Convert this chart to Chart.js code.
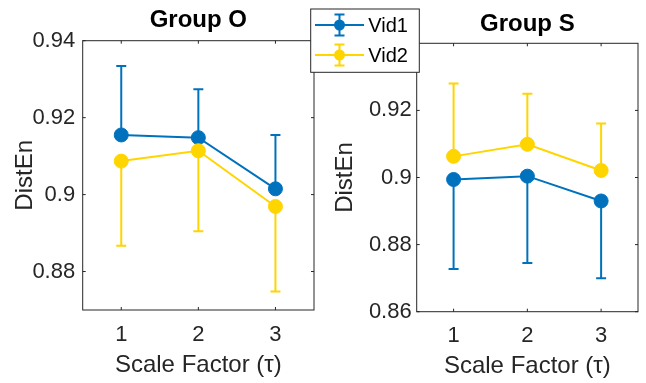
<!DOCTYPE html>
<html>
<head>
<meta charset="utf-8">
<script src="https://cdn.jsdelivr.net/npm/chart.js@4.4.1/dist/chart.umd.min.js"></script>
<style>
html, body { margin: 0; padding: 0; background: #ffffff; overflow: hidden; }
#wrap { position: relative; width: 646px; height: 383px; }
canvas { position: absolute; top: 0; }
#cO { left: 0px; }
#cS { left: 300px; }
</style>
</head>
<body>
<div id="wrap">
  <canvas id="cO" width="330" height="383"></canvas>
  <canvas id="cS" width="346" height="383"></canvas>
</div>
<script>
// ---------------- data ----------------
const scaleFactors = [1, 2, 3];
const xTickLabels = ['1', '2', '3'];
const seriesNames = ['Vid1', 'Vid2'];
const groupTitles = ['Group O', 'Group S'];

// Group O
const oVid1 = [0.9155, 0.9148, 0.9015];
const oVid1Err = [0.0179, 0.0126, 0.0140];   // drawn upward
const oVid2 = [0.9087, 0.9114, 0.8969];
const oVid2Err = [0.0220, 0.0209, 0.0221];   // drawn downward
const oYTicks = [0.88, 0.90, 0.92, 0.94];
const oYLabels = ['0.88', '0.9', '0.92', '0.94'];
const oYRange = [0.87, 0.94];

// Group S
const sVid1 = [0.8994, 0.9004, 0.8930];
const sVid1Err = [0.0267, 0.0259, 0.0230];   // drawn downward
const sVid2 = [0.9063, 0.9099, 0.9021];
const sVid2Err = [0.0217, 0.0151, 0.0140];   // drawn upward
const sYTicks = [0.86, 0.88, 0.90, 0.92];
const sYLabels = ['0.86', '0.88', '0.9', '0.92'];
const sYRange = [0.86, 0.94];

const xRange = [0.5, 3.5];

// ---------------- style ----------------
const BLUE = '#0072BD';
const YELLOW = '#FFD500';
const AXIS = '#262626';
const FONT = "'Liberation Sans', Arial, Helvetica, sans-serif";
const TICK_LEN = 3;

function pts(vals) { return scaleFactors.map((x, i) => ({ x: x, y: vals[i] })); }

const frameAndErrors = {
  id: 'frameAndErrors',
  beforeDatasetsDraw(chart) {
    const { ctx, chartArea: a, scales } = chart;
    const x = scales.x, y = scales.y;
    ctx.save();
    ctx.strokeStyle = AXIS;
    ctx.lineWidth = 1;
    ctx.strokeRect(a.left, a.top, a.right - a.left, a.bottom - a.top);
    ctx.beginPath();
    x.ticks.forEach(t => {
      const px = x.getPixelForValue(t.value);
      ctx.moveTo(px, a.bottom); ctx.lineTo(px, a.bottom - TICK_LEN);
      ctx.moveTo(px, a.top); ctx.lineTo(px, a.top + TICK_LEN);
    });
    y.ticks.forEach(t => {
      const py = y.getPixelForValue(t.value);
      ctx.moveTo(a.left, py); ctx.lineTo(a.left + TICK_LEN, py);
      ctx.moveTo(a.right, py); ctx.lineTo(a.right - TICK_LEN, py);
    });
    ctx.stroke();
    ctx.restore();
  },
  beforeDatasetDraw(chart, args) {
    const ds = chart.data.datasets[args.index];
    const y = chart.scales.y;
    const ctx = chart.ctx;
    ctx.save();
    ctx.strokeStyle = ds.borderColor;
    ctx.lineWidth = 2;
    ctx.beginPath();
    args.meta.data.forEach((el, i) => {
      const v = ds.data[i].y;
      const end = y.getPixelForValue(v + ds.errDir * ds.err[i]);
      ctx.moveTo(el.x, el.y); ctx.lineTo(el.x, end);
      ctx.moveTo(el.x - 5, end); ctx.lineTo(el.x + 5, end);
    });
    ctx.stroke();
    ctx.restore();
  },
  afterDraw(chart, args, opts) {
    if (!opts || !opts.legend) return;
    const L = opts.legend;
    const ctx = chart.ctx;
    ctx.save();
    ctx.fillStyle = '#ffffff';
    ctx.fillRect(L.x, L.y, L.w, L.h);
    ctx.strokeStyle = AXIS;
    ctx.lineWidth = 1;
    ctx.strokeRect(L.x, L.y, L.w, L.h);
    chart.data.datasets.forEach((ds, i) => {
      const cy = L.y + 16 + i * 30;
      const x0 = L.x + 4.3, x1 = L.x + 53.3, cx = (x0 + x1) / 2;
      ctx.strokeStyle = ds.borderColor;
      ctx.lineWidth = 2;
      ctx.beginPath();
      ctx.moveTo(x0, cy); ctx.lineTo(x1, cy);
      ctx.moveTo(cx, cy - 10.5); ctx.lineTo(cx, cy + 10.5);
      ctx.moveTo(cx - 5, cy - 10.5); ctx.lineTo(cx + 5, cy - 10.5);
      ctx.moveTo(cx - 5, cy + 10.5); ctx.lineTo(cx + 5, cy + 10.5);
      ctx.stroke();
      ctx.fillStyle = ds.borderColor;
      ctx.beginPath();
      ctx.arc(cx, cy, 5.5, 0, Math.PI * 2);
      ctx.fill();
      ctx.fillStyle = '#000000';
      ctx.font = '20px ' + FONT;
      ctx.textAlign = 'left';
      ctx.textBaseline = 'middle';
      ctx.fillText(ds.label, L.x + 57.6, cy + 1);
    });
    ctx.restore();
  }
};

function makeChart(id, title, datasets, yRange, yTicks, yLabels, g) {
  return new Chart(document.getElementById(id), {
    type: 'line',
    data: { datasets: datasets },
    options: {
      responsive: false,
      animation: false,
      events: [],
      layout: { padding: { left: 0, right: g.padRight, top: 0, bottom: 0 } },
      plugins: {
        legend: { display: false },
        tooltip: { enabled: false },
        title: {
          display: true, text: title, fullSize: false, color: '#000000',
          font: { family: FONT, size: 24, weight: 'bold', lineHeight: 1.2 },
          padding: { top: g.titleTop, bottom: g.titleBottom }
        },
        frameAndErrors: { legend: g.legend || null }
      },
      scales: {
        x: {
          type: 'linear', min: xRange[0], max: xRange[1],
          grid: { display: false, drawTicks: false },
          border: { display: false },
          afterBuildTicks: s => { s.ticks = scaleFactors.map(v => ({ value: v })); },
          ticks: {
            callback: (v, i) => xTickLabels[i],
            color: AXIS, padding: g.xTickPad, maxRotation: 0,
            font: { family: FONT, size: 22, lineHeight: 1.2 }
          },
          title: {
            display: true, text: 'Scale Factor (τ)', color: AXIS,
            font: { family: FONT, size: 24, lineHeight: 1.2 },
            padding: { top: 0, bottom: g.xTitlePad }
          },
          afterFit: s => { s.height = g.xHeight; }
        },
        y: {
          type: 'linear', min: yRange[0], max: yRange[1],
          grid: { display: false, drawTicks: false },
          border: { display: false },
          afterBuildTicks: s => { s.ticks = yTicks.map(v => ({ value: v })); },
          ticks: {
            callback: (v, i) => yLabels[i],
            color: AXIS, padding: g.yTickPad,
            font: { family: FONT, size: 22, lineHeight: 1.2 }
          },
          title: {
            display: true, text: 'DistEn', color: AXIS,
            font: { family: FONT, size: 24, lineHeight: 1.2 },
            padding: { top: g.yTitlePad, bottom: 0 }
          },
          afterFit: s => { s.width = g.yWidth; }
        }
      }
    },
    plugins: [frameAndErrors]
  });
}

function series(name, vals, err, dir, color, order) {
  return {
    label: name, data: pts(vals), err: err, errDir: dir,
    borderColor: color, backgroundColor: color,
    borderWidth: 2, tension: 0,
    pointRadius: 7, pointBorderWidth: 1,
    pointBackgroundColor: color, pointBorderColor: color,
    order: order
  };
}

makeChart('cO', groupTitles[0], [
  series(seriesNames[0], oVid1, oVid1Err, 1, BLUE, 1),
  series(seriesNames[1], oVid2, oVid2Err, -1, YELLOW, 0)
], oYRange, oYTicks, oYLabels, {
  padRight: 16, titleTop: 6.1, titleBottom: 5.8,
  xHeight: 73, yWidth: 82.7, xTickPad: 11.8, xTitlePad: 3.6,
  yTickPad: 7.5, yTitlePad: 11.4
});

makeChart('cS', groupTitles[1], [
  series(seriesNames[0], sVid1, sVid1Err, -1, BLUE, 1),
  series(seriesNames[1], sVid2, sVid2Err, 1, YELLOW, 0)
], sYRange, sYTicks, sYLabels, {
  padRight: 1, titleTop: 9.6, titleBottom: 4.9,
  xHeight: 71.3, yWidth: 116.7, xTickPad: 10.9, xTitlePad: 1.9,
  yTickPad: 5, yTitlePad: 31.4,
  legend: { x: 10.7, y: 9, w: 108.6, h: 63.3 }
});
</script>
</body>
</html>
